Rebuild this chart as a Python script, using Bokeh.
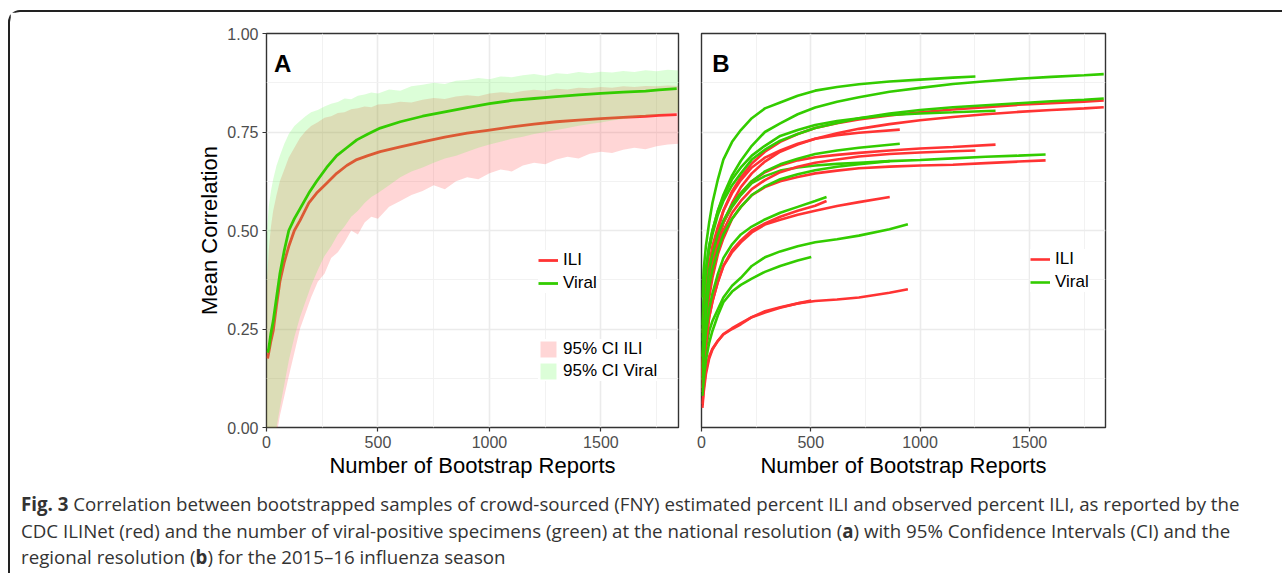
from bokeh.plotting import figure
from bokeh.models import Range1d, FixedTicker, Legend, LegendItem, Div, Label
from bokeh.layouts import column, row
from bokeh.embed import file_html
from bokeh.resources import INLINE

# ---------------- DATA ----------------
x_ticks = [0, 500, 1000, 1500]
x_minor = [250, 750, 1250, 1750]
x_tick_labels = ["0", "500", "1000", "1500"]
y_ticks = [0.0, 0.25, 0.5, 0.75, 1.0]
y_minor = [0.125, 0.375, 0.625, 0.875]
y_tick_labels = ["0.00", "0.25", "0.50", "0.75", "1.00"]

# Panel A: national resolution, mean correlation
a_x = [5, 10, 20, 30, 45, 60, 80, 100, 125, 150, 190, 225, 270, 315, 360, 405, 455,
       510, 600, 700, 800, 900, 1000, 1100, 1200, 1300, 1400, 1500, 1600, 1700, 1760, 1840]
a_viral = [0.19, 0.20, 0.24, 0.27, 0.33, 0.39, 0.45, 0.50, 0.53, 0.555, 0.595, 0.625, 0.66,
           0.69, 0.71, 0.73, 0.745, 0.76, 0.776, 0.79, 0.801, 0.812, 0.822, 0.83, 0.835, 0.84,
           0.844, 0.848, 0.851, 0.854, 0.857, 0.86]
a_ili = [0.175, 0.19, 0.22, 0.245, 0.31, 0.37, 0.42, 0.46, 0.50, 0.525, 0.57, 0.595, 0.62,
         0.645, 0.665, 0.68, 0.69, 0.70, 0.712, 0.725, 0.737, 0.747, 0.755, 0.763, 0.77, 0.776,
         0.78, 0.784, 0.787, 0.79, 0.792, 0.794]

# Panel A: 95% confidence bands
a_band_x = [0, 5, 10, 20, 30, 45, 60, 80, 100, 125, 150, 175, 200, 230, 260, 290, 320, 350,
            380, 410, 440, 470, 500, 550, 600, 650, 700, 750, 800, 850, 900, 950, 1000, 1050,
            1100, 1150, 1200, 1250, 1300, 1350, 1400, 1450, 1500, 1550, 1600, 1650, 1700,
            1750, 1800, 1848]
a_viral_hi = [0.48, 0.52, 0.56, 0.60, 0.63, 0.665, 0.69, 0.72, 0.745, 0.765, 0.778, 0.79, 0.80,
              0.806, 0.815, 0.822, 0.826, 0.835, 0.833, 0.842, 0.845, 0.85, 0.848, 0.858, 0.855,
              0.866, 0.87, 0.875, 0.872, 0.88, 0.882, 0.887, 0.884, 0.891, 0.889, 0.894, 0.897,
              0.893, 0.899, 0.897, 0.902, 0.899, 0.903, 0.901, 0.905, 0.902, 0.907, 0.904, 0.908,
              0.906]
a_viral_lo = [-0.2, -0.15, -0.1, -0.06, -0.03, 0.0, 0.05, 0.11, 0.17, 0.23, 0.28, 0.32, 0.36,
              0.40, 0.435, 0.46, 0.49, 0.51, 0.535, 0.55, 0.57, 0.585, 0.595, 0.615, 0.635, 0.65,
              0.66, 0.672, 0.683, 0.69, 0.70, 0.71, 0.718, 0.725, 0.733, 0.738, 0.745, 0.75,
              0.755, 0.76, 0.766, 0.77, 0.774, 0.779, 0.783, 0.787, 0.79, 0.794, 0.797, 0.80]
a_ili_hi = [0.36, 0.40, 0.45, 0.51, 0.55, 0.59, 0.625, 0.655, 0.685, 0.71, 0.735, 0.752, 0.765,
            0.775, 0.786, 0.79, 0.798, 0.80, 0.808, 0.81, 0.815, 0.813, 0.82, 0.822, 0.827,
            0.825, 0.832, 0.836, 0.834, 0.84, 0.843, 0.841, 0.848, 0.851, 0.849, 0.854, 0.857,
            0.855, 0.86, 0.858, 0.862, 0.861, 0.864, 0.862, 0.866, 0.864, 0.867, 0.866, 0.868,
            0.867]
a_ili_lo = [-0.25, -0.2, -0.16, -0.11, -0.07, -0.02, 0.03, 0.08, 0.13, 0.19, 0.25, 0.29, 0.33,
            0.37, 0.39, 0.43, 0.445, 0.47, 0.50, 0.49, 0.52, 0.535, 0.53, 0.56, 0.575, 0.59,
            0.60, 0.615, 0.605, 0.625, 0.635, 0.63, 0.645, 0.655, 0.65, 0.665, 0.672, 0.668,
            0.68, 0.687, 0.683, 0.695, 0.70, 0.697, 0.705, 0.71, 0.706, 0.714, 0.718, 0.72]

# Panel B: regional resolution. Shared sampling grid, each region stops at its own maximum
b_grid = [4, 10, 20, 35, 50, 75, 100, 140, 180, 230, 290, 360, 440, 520, 620, 720, 860,
          1000, 1150, 1300, 1450, 1600, 1750]
b_end = [1840, 1840, 1574, 1345, 1253, 944, 907, 861, 572, 502]
b_viral = [
    [0.26, 0.33, 0.40, 0.46, 0.50, 0.55, 0.59, 0.64, 0.677, 0.715, 0.75, 0.772, 0.795, 0.812,
     0.827, 0.838, 0.852, 0.862, 0.872, 0.879, 0.885, 0.89, 0.894, 0.897],
    [0.22, 0.30, 0.38, 0.45, 0.49, 0.54, 0.575, 0.615, 0.645, 0.68, 0.705, 0.728, 0.745, 0.76,
     0.773, 0.785, 0.797, 0.806, 0.813, 0.818, 0.823, 0.828, 0.832, 0.835],
    [0.18, 0.25, 0.32, 0.39, 0.43, 0.48, 0.52, 0.56, 0.59, 0.62, 0.638, 0.652, 0.66, 0.665,
     0.669, 0.672, 0.676, 0.679, 0.683, 0.687, 0.69, 0.693],
    [0.24, 0.32, 0.40, 0.46, 0.50, 0.55, 0.585, 0.63, 0.66, 0.69, 0.715, 0.74, 0.755, 0.768,
     0.778, 0.785, 0.793, 0.797, 0.80, 0.804],
    [0.33, 0.40, 0.46, 0.52, 0.57, 0.63, 0.68, 0.725, 0.755, 0.785, 0.81, 0.825, 0.842, 0.855,
     0.864, 0.871, 0.878, 0.883, 0.888, 0.891],
    [0.10, 0.15, 0.20, 0.245, 0.27, 0.30, 0.33, 0.36, 0.38, 0.41, 0.432, 0.447, 0.46, 0.47,
     0.478, 0.487, 0.503, 0.516],
    [0.18, 0.25, 0.33, 0.40, 0.44, 0.49, 0.525, 0.565, 0.595, 0.625, 0.65, 0.668, 0.682, 0.694,
     0.703, 0.71, 0.72],
    [0.15, 0.22, 0.29, 0.36, 0.40, 0.45, 0.49, 0.53, 0.56, 0.59, 0.612, 0.63, 0.643, 0.653,
     0.662, 0.668, 0.676],
    [0.12, 0.18, 0.24, 0.30, 0.34, 0.39, 0.43, 0.465, 0.49, 0.51, 0.528, 0.545, 0.56, 0.575,
     0.585],
    [0.08, 0.12, 0.17, 0.215, 0.245, 0.285, 0.318, 0.345, 0.362, 0.378, 0.395, 0.41, 0.424,
     0.433],
]
b_ili = [
    [0.14, 0.22, 0.31, 0.39, 0.44, 0.50, 0.55, 0.60, 0.635, 0.67, 0.70, 0.725, 0.745, 0.76,
     0.772, 0.782, 0.792, 0.80, 0.807, 0.813, 0.819, 0.823, 0.827, 0.83],
    [0.12, 0.20, 0.28, 0.36, 0.41, 0.47, 0.52, 0.57, 0.61, 0.645, 0.675, 0.70, 0.718, 0.733,
     0.747, 0.758, 0.77, 0.78, 0.788, 0.795, 0.801, 0.806, 0.81, 0.813],
    [0.12, 0.19, 0.26, 0.33, 0.38, 0.44, 0.48, 0.53, 0.56, 0.59, 0.61, 0.625, 0.636, 0.645,
     0.652, 0.658, 0.662, 0.665, 0.667, 0.671, 0.675, 0.678],
    [0.13, 0.21, 0.29, 0.37, 0.42, 0.48, 0.52, 0.565, 0.595, 0.625, 0.648, 0.665, 0.678, 0.686,
     0.692, 0.697, 0.703, 0.708, 0.712, 0.718],
    [0.13, 0.20, 0.28, 0.35, 0.40, 0.46, 0.50, 0.545, 0.575, 0.605, 0.628, 0.648, 0.662, 0.672,
     0.68, 0.688, 0.694, 0.698, 0.701, 0.703],
    [0.06, 0.10, 0.145, 0.18, 0.20, 0.22, 0.237, 0.252, 0.265, 0.28, 0.295, 0.305, 0.315,
     0.321, 0.325, 0.33, 0.342, 0.351],
    [0.16, 0.24, 0.33, 0.41, 0.46, 0.51, 0.55, 0.595, 0.628, 0.66, 0.685, 0.703, 0.72, 0.733,
     0.742, 0.748, 0.756],
    [0.09, 0.15, 0.21, 0.28, 0.32, 0.37, 0.41, 0.445, 0.47, 0.495, 0.515, 0.527, 0.54, 0.55,
     0.562, 0.572, 0.585],
    [0.10, 0.16, 0.22, 0.28, 0.32, 0.37, 0.41, 0.45, 0.475, 0.50, 0.518, 0.535, 0.55, 0.563,
     0.575],
    [0.05, 0.09, 0.135, 0.175, 0.198, 0.22, 0.236, 0.25, 0.262, 0.28, 0.292, 0.304, 0.315,
     0.322],
]

x_title = "Number of Bootstrap Reports"
y_title = "Mean Correlation"
legend_lines = ["ILI", "Viral"]
legend_fills = ["95% CI ILI", "95% CI Viral"]
caption_html = ("<b>Fig. 3</b> Correlation between bootstrapped samples of crowd-sourced (FNY) "
                "estimated percent ILI and observed percent ILI, as reported by the<br>"
                "CDC ILINet (red) and the number of viral-positive specimens (green) at the "
                "national resolution (<b>a</b>) with 95% Confidence Intervals (CI) and the<br>"
                "regional resolution (<b>b</b>) for the 2015&ndash;16 influenza season")

RED = "#ff3333"
GREEN = "#33cc00"
GREEN_FILL = "#50fa3c"
FONT = "Liberation Sans"
X_END = 1848


def style(p, show_y):
    p.x_range = Range1d(0, X_END)
    p.y_range = Range1d(0, 1)
    p.background_fill_color = "white"
    p.border_fill_color = "white"
    p.outline_line_color = "#333333"
    p.outline_line_width = 1.4
    p.xgrid.grid_line_color = "#ebebeb"
    p.ygrid.grid_line_color = "#ebebeb"
    p.xgrid.grid_line_width = 1.6
    p.ygrid.grid_line_width = 1.6
    p.xgrid.minor_grid_line_color = "#f0f0f0"
    p.ygrid.minor_grid_line_color = "#f0f0f0"
    p.xgrid.minor_grid_line_width = 0.9
    p.ygrid.minor_grid_line_width = 0.9
    for ax in p.xaxis:
        ax.ticker = FixedTicker(ticks=x_ticks, minor_ticks=x_minor)
        ax.major_label_overrides = dict(zip(x_ticks, x_tick_labels))
        ax.axis_label = x_title
    for ax in p.yaxis:
        ax.ticker = FixedTicker(ticks=y_ticks, minor_ticks=y_minor)
        ax.major_label_overrides = dict(zip(y_ticks, y_tick_labels))
        ax.axis_label = y_title
    for ax in p.xaxis + p.yaxis:
        ax.axis_line_color = None
        ax.major_tick_line_color = "#333333"
        ax.major_tick_line_width = 1.2
        ax.major_tick_out = 4
        ax.major_tick_in = 0
        ax.minor_tick_line_color = None
        ax.major_label_text_font = FONT
        ax.major_label_text_font_size = "16px"
        ax.major_label_text_color = "#4d4d4d"
        ax.major_label_standoff = 4
        ax.axis_label_text_font = FONT
        ax.axis_label_text_font_size = "22px"
        ax.axis_label_text_font_style = "normal"
        ax.axis_label_text_color = "black"
        ax.axis_label_standoff = 2
    if not show_y:
        for ax in p.yaxis:
            ax.visible = False


def make_legend(items, x, y, glyph_h, spacing):
    lg = Legend(items=items, location=(x, y), orientation="vertical")
    lg.label_text_font = FONT
    lg.label_text_font_size = "17px"
    lg.label_text_color = "black"
    lg.glyph_width = 20
    lg.glyph_height = glyph_h
    lg.label_height = glyph_h
    lg.label_standoff = 5
    lg.spacing = spacing
    lg.padding = 5
    lg.margin = 0
    lg.border_line_color = None
    lg.background_fill_color = "white"
    lg.background_fill_alpha = 1.0
    return lg


# ---------------- Panel A ----------------
pA = figure(width=680, height=473, output_backend="svg", toolbar_location=None,
            min_border_left=256, min_border_right=12, min_border_top=21, min_border_bottom=58)
style(pA, True)
r_ci_ili = pA.varea(x=a_band_x, y1=a_ili_lo, y2=a_ili_hi, fill_color=RED, fill_alpha=0.2)
r_ili = pA.line(a_x, a_ili, line_color=RED, line_width=2.8)
r_ci_viral = pA.varea(x=a_band_x, y1=a_viral_lo, y2=a_viral_hi, fill_color=GREEN_FILL,
                      fill_alpha=0.2)
r_viral = pA.line(a_x, a_viral, line_color=GREEN, line_width=2.8)

leg1 = make_legend([LegendItem(label=legend_lines[0], renderers=[r_ili]),
                    LegendItem(label=legend_lines[1], renderers=[r_viral])], 272, 134, 20, 3)
leg2 = make_legend([LegendItem(label=legend_fills[0], renderers=[r_ci_ili]),
                    LegendItem(label=legend_fills[1], renderers=[r_ci_viral])], 272, 46, 20, 2)
pA.add_layout(leg1)
pA.add_layout(leg2)
pA.add_layout(Label(x=7.5, y=364, x_units="screen", y_units="screen", text="A",
                    text_font=FONT, text_font_size="24px", text_font_style="bold",
                    text_baseline="alphabetic", text_color="black"))

# ---------------- Panel B ----------------
pB = figure(width=582, height=473, output_backend="svg", toolbar_location=None,
            min_border_left=11, min_border_right=167, min_border_top=21, min_border_bottom=58)
style(pB, False)
first_ili = None
first_viral = None
for end, ys_v, ys_i in zip(b_end, b_viral, b_ili):
    xs_v = b_grid[:len(ys_v) - 1] + [end]
    xs_i = b_grid[:len(ys_i) - 1] + [end]
    ri = pB.line(xs_i, ys_i, line_color=RED, line_width=2.6)
    rv = pB.line(xs_v, ys_v, line_color=GREEN, line_width=2.6)
    if first_ili is None:
        first_ili, first_viral = ri, rv
legB = make_legend([LegendItem(label=legend_lines[0], renderers=[first_ili]),
                    LegendItem(label=legend_lines[1], renderers=[first_viral])], 329, 135, 20, 3)
pB.add_layout(legB)
pB.add_layout(Label(x=10.7, y=364, x_units="screen", y_units="screen", text="B",
                    text_font=FONT, text_font_size="24px", text_font_style="bold",
                    text_baseline="alphabetic", text_color="black"))

# ---------------- Caption ----------------
cap = Div(text=('<div style="padding:1px 0 0 6px; font-family:\'Open Sans\'; font-size:18.7px; '
                'line-height:26.5px; color:#333333; white-space:nowrap;">' + caption_html + '</div>'),
          width=1262, height=84)

layout = column(row(pA, pB), cap, margin=(10, 0, 0, 8),
                styles={"border-top": "2px solid #222222", "border-left": "2px solid #222222",
                        "border-top-left-radius": "12px", "background-color": "white"})

open("out.html", "w").write(file_html(layout, INLINE))
